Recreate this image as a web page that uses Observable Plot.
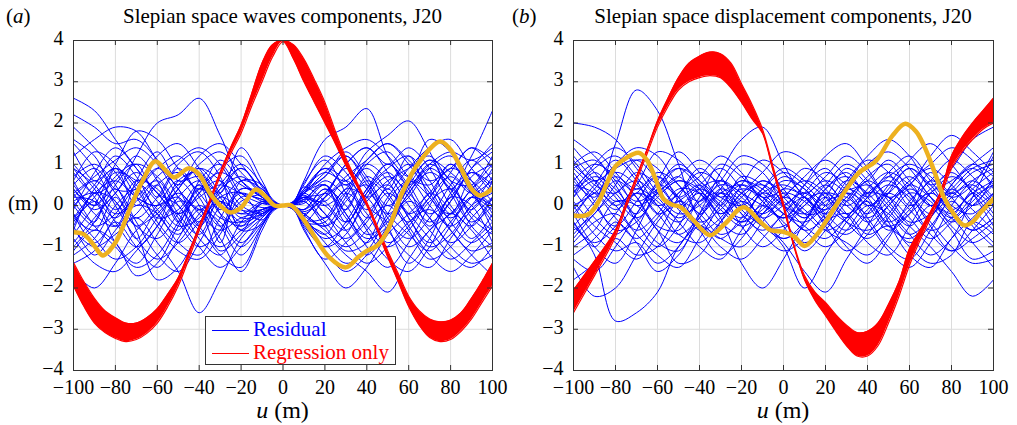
<!DOCTYPE html>
<html><head><meta charset="utf-8">
<script src="https://cdn.jsdelivr.net/npm/d3@7"></script>
<script src="https://cdn.jsdelivr.net/npm/@observablehq/plot@0.6"></script>
<style>
body{margin:0;background:#fff;}
#root{position:relative;width:1017px;height:425px;font-family:"Liberation Serif","Times New Roman",serif;color:#000;overflow:hidden;}
.abs{position:absolute;white-space:nowrap;line-height:1;}
svg text{font-family:"Liberation Serif","Times New Roman",serif;}
</style></head><body><div id="root"></div>
<script>
// ---------- tick labels ----------
const xTicks = [-100,-80,-60,-40,-20,0,20,40,60,80,100];
const yTicks = [-4,-3,-2,-1,0,1,2,3,4];

// ---------- panel (a): Slepian space waves components ----------
const uA = [-100,-90,-80,-70,-60,-50,-40,-30,-20,-10,-5,0,5,10,20,30,40,50,60,70,80,90,100];
const residualA = [
 [2.6,2.3,1.6,0.9,0.3,-0.2,0.2,0.5,0.3,0.15,0.05,0,-0.05,-0.3,-0.8,-0.5,0.4,1.0,0.5,-0.2,0.2,0.9,1.3],
 [2.2,1.9,1.5,1.6,1.1,0.4,-0.1,0.4,0.7,0.25,0.08,0,0.05,0.3,1.0,1.4,1.6,1.2,0.7,1.1,0.8,0.3,-0.1],
 [0.4,-0.1,0.3,1.2,2.0,2.2,2.6,1.7,0.6,0.2,0.06,0,-0.08,-0.5,-1.0,-0.4,0.4,0.9,1.2,0.6,-0.2,0.4,0.8],
 [-0.5,0.4,0.9,0.4,-0.4,-0.9,-0.4,0.1,-0.2,-0.1,-0.03,0,0.1,0.6,1.6,1.9,2.35,1.2,0.5,1.0,0.6,-0.3,-0.7],
 [0.9,0.2,-0.5,-0.2,0.5,0.8,0.3,-0.3,-0.4,-0.1,-0.02,0,0.05,0.4,0.8,0.6,1.3,1.7,2.05,1.3,0.4,1.2,2.3],
 [-0.6,-1.0,-0.7,-0.3,-0.9,-1.6,-2.6,-1.8,-0.8,-0.3,-0.08,0,0.06,0.3,0.5,-0.2,-0.8,-0.5,0.3,0.8,0.4,-0.5,-1.0],
 [0.2,0.6,0.1,-0.5,-0.8,-0.2,0.4,0.8,0.5,0.2,0.05,0,-0.1,-0.6,-1.4,-2.0,-1.5,-0.7,-0.2,0.3,0.9,0.6,0.1],
 [-0.3,0.3,0.6,0.2,0.0,0.5,0.9,0.3,-0.3,-0.2,-0.05,0,-0.05,-0.4,-0.7,-1.2,-1.6,-2.1,-1.3,-0.6,-0.2,0.4,1.0],
 [-1.6,-2.0,-1.4,-0.6,-0.2,0.3,-0.2,-0.6,-0.3,-0.15,-0.04,0,0.04,0.2,0.0,0.4,1.0,0.6,-0.3,-0.9,-0.4,0.2,0.0],
 [1.5,0.9,0.0,-0.8,-1.3,-0.9,-0.2,0.3,0.9,0.35,0.1,0,-0.06,-0.35,-0.3,0.4,0.2,-0.6,-1.2,-1.5,-0.8,-0.1,0.4],
 [-1.0,-0.4,0.5,1.0,0.7,0.0,-0.6,-1.0,-0.6,-0.25,-0.06,0,0.08,0.5,1.2,0.8,0.0,-0.4,-0.8,-0.3,0.5,1.1,0.6],
 [0.6,1.3,1.0,0.2,-0.5,-1.1,-1.3,-0.7,0.2,0.15,0.04,0,-0.03,-0.2,-0.6,-1.0,-0.6,0.2,0.9,1.4,1.6,0.9,0.3],
 [-0.2,-0.8,-1.3,-1.0,-0.3,0.4,1.0,1.3,0.8,0.3,0.07,0,-0.04,-0.1,0.3,1.0,1.4,0.8,0.0,-0.6,-1.2,-1.5,-1.0],
 [0.3,0.7,1.1,1.4,1.0,0.2,-0.5,-1.2,-1.5,-0.5,-0.1,0,0.02,0.1,0.6,0.2,-0.5,-1.0,-0.6,0.1,0.4,-0.2,-0.6],
 [-1.2,-0.8,0.0,0.5,1.2,1.5,0.9,0.2,-0.4,-0.2,-0.05,0,-0.08,-0.45,-1.0,-0.7,0.2,0.7,0.3,-0.3,-1.0,-1.4,-1.2],
 [0.0,-0.5,-0.2,0.6,0.4,-0.3,-1.0,-1.5,-1.0,-0.4,-0.1,0,0.07,0.35,0.7,1.2,0.5,-0.2,0.4,1.0,1.3,1.1,1.4],
 [1.0,0.4,-0.2,0.1,0.7,1.1,1.4,1.0,0.2,-0.05,-0.02,0,0.03,0.1,-0.5,-1.1,-0.9,0.1,0.6,0.2,-0.6,-1.2,-1.7],
 [-0.8,-1.4,-1.6,-1.1,-0.5,0.2,0.6,0.1,-0.2,0.1,0.03,0,-0.02,-0.15,0.2,0.7,1.1,1.5,1.0,0.3,-0.3,0.2,0.6],
 [0.5,0.0,0.4,-0.4,-1.2,-1.6,-0.9,0.0,0.6,0.4,0.1,0,-0.05,-0.3,-0.9,-1.4,-1.1,-0.3,0.2,0.9,1.2,0.6,-0.2],
 [-0.3,0.2,1.0,1.8,1.6,0.9,0.4,0.9,1.2,0.45,0.12,0,0.06,0.25,-0.2,-0.6,0.1,0.5,-0.3,-1.0,-0.7,0.0,0.3],
 [1.2,1.6,1.9,1.8,1.1,0.5,0.9,0.6,-0.1,-0.1,-0.02,0,-0.1,-0.55,-1.3,-0.9,-0.4,0.3,-0.2,-0.8,-1.3,-0.9,-0.4],
 [-1.4,-1.1,-0.4,-1.0,-1.5,-0.8,0.0,-0.5,-1.2,-0.5,-0.12,0,0.04,0.2,0.3,0.9,0.4,-0.3,-1.0,-0.6,0.1,0.9,1.5],
 [0.1,0.3,-0.4,-1.0,-0.5,0.6,0.8,-0.2,-0.9,-0.3,-0.07,0,0.1,0.55,1.1,0.3,-0.6,-1.3,-1.6,-1.0,-0.2,-0.6,-1.3],
 [-0.9,-0.3,0.3,0.8,0.3,-0.2,0.3,1.1,0.6,0.2,0.05,0,-0.03,-0.1,0.4,0.0,-0.7,-0.4,0.5,1.6,1.3,0.5,0.0],
 [0.7,1.0,0.5,-0.6,-1.8,-1.5,-0.6,0.2,-0.1,-0.35,-0.09,0,0.05,0.3,-0.2,-0.9,-1.4,-1.0,-0.4,-0.1,-0.6,-1.1,-0.9],
 [-0.1,0.8,1.4,0.9,0.3,0.0,-0.8,-1.2,-0.4,0.05,0.02,0,-0.1,-0.4,0.2,1.0,1.4,1.0,1.4,0.9,0.0,-0.5,0.2],
 [0.3,-0.5,-1.0,-1.5,-1.2,-0.4,0.4,0.0,-0.6,-0.2,-0.05,0,0.07,0.4,0.9,0.5,0.9,0.3,-0.5,-1.2,-1.6,-1.2,-0.6],
 [1.6,1.2,0.4,0.4,0.9,1.2,0.6,-0.1,0.3,0.1,0.02,0,0.02,0.15,0.5,-0.2,-1.0,-1.5,-0.9,0.0,0.8,1.4,1.1],
 [-0.5,-1.2,-0.6,0.0,-0.2,-0.9,-1.2,-0.3,0.4,0.3,0.08,0,-0.06,-0.25,-0.5,0.2,1.0,1.3,0.7,0.5,1.0,0.3,-0.4],
 [0.2,0.1,-0.9,-1.4,-0.7,0.1,-0.1,-0.8,-1.6,-0.6,-0.15,0,0.09,0.45,0.1,-0.4,0.3,0.8,0.2,-0.4,0.1,0.8,0.5],
 [1.9,1.4,0.8,0.2,0.0,0.4,1.2,1.5,1.0,0.35,0.09,0,-0.07,-0.35,-1.1,-1.6,-1.2,-0.5,0.3,0.9,0.5,-0.1,0.6],
 [-0.7,0.0,0.8,0.6,0.1,-0.5,-0.3,0.5,1.0,0.5,0.12,0,0.03,0.1,-0.3,0.3,1.1,1.5,1.1,0.6,0.9,1.4,0.9],
 [0.5,0.9,0.3,-0.3,0.2,1.0,1.3,0.7,-0.6,-0.45,-0.11,0,0.06,0.3,0.8,1.2,0.6,-0.2,-0.7,-1.1,-0.5,0.2,-0.3],
 [-1.1,-0.6,-0.9,-1.7,-1.4,-0.5,0.3,0.6,0.0,-0.2,-0.05,0,-0.04,-0.2,-0.5,-0.1,0.6,0.2,-0.6,-1.3,-1.0,-0.3,0.2],
 [0.0,0.5,1.2,0.7,-0.2,-0.7,-0.1,-0.4,-1.0,-0.45,-0.1,0,0.08,0.35,0.9,0.6,-0.1,0.5,1.0,0.4,-0.4,-0.9,-0.5],
 [0.8,0.3,0.6,1.2,0.6,-0.4,-1.0,-0.6,0.4,0.25,0.06,0,-0.08,-0.4,-0.4,0.3,-0.2,-0.9,-0.5,0.2,0.7,0.3,0.9],
 [-0.4,0.1,-0.3,0.3,0.9,0.4,-0.4,0.4,0.9,0.3,0.07,0,0.05,0.2,0.0,-0.6,-1.2,-0.6,0.1,-0.3,-0.9,-0.5,0.2],
 [1.3,0.6,0.9,0.5,-0.3,-0.1,0.5,-0.2,-0.5,0.05,0.01,0,0.04,0.3,0.7,1.3,0.7,0.0,0.5,1.1,0.3,-0.4,0.0],
 [-0.2,-0.9,-0.3,0.2,0.6,-0.2,-0.7,0.2,0.3,-0.25,-0.06,0,-0.02,-0.1,0.4,-0.3,-0.9,-0.2,0.6,0.0,-0.5,0.0,0.7],
 [0.4,0.0,0.7,1.0,0.2,0.9,0.2,-0.5,0.1,0.25,0.06,0,0.04,0.15,0.1,0.6,0.2,0.6,0.9,1.2,0.6,0.5,1.2],
 [-0.3,-0.6,0.2,-0.5,0.0,0.6,0.0,-1.1,-0.7,0.1,0.03,0,0.03,0.2,-0.4,-0.8,-0.3,0.4,-0.2,0.2,1.0,0.4,-0.6],
 [0.9,0.5,-0.1,0.4,-0.1,-0.6,0.6,1.0,0.3,0.05,0.01,0,-0.03,-0.2,0.2,0.5,-0.3,0.0,-0.4,0.3,-0.1,-0.8,-0.2],
 [-0.6,0.3,0.1,-0.8,-0.1,0.2,-0.5,0.1,-0.5,-0.1,-0.02,0,-0.06,-0.3,-0.7,0.1,0.5,-0.5,-1.4,-0.8,0.3,0.8,0.4],
 [0.1,-0.4,0.9,0.0,0.5,-0.4,0.5,-0.9,0.6,0.5,0.12,0,0.02,0.05,0.5,-0.4,0.3,1.0,0.4,-0.5,0.2,0.0,-0.9],
 [0.6,-0.2,-0.5,0.6,1.3,0.6,0.7,0.3,1.4,0.6,0.15,0,-0.05,-0.25,0.3,-0.1,0.7,0.4,1.2,0.2,-0.2,0.7,1.0]
];
const uRedA = [-100,-95,-90,-85,-80,-75,-70,-65,-60,-55,-50,-45,-40,-35,-30,-25,-20,-15,-10,-5,0,5,10,15,20,25,30,35,40,45,50,55,60,65,70,75,80,85,90,95,100];
const redLowA  = [-1.95,-2.45,-2.85,-3.08,-3.22,-3.3,-3.25,-3.1,-2.85,-2.45,-1.95,-1.3,-0.6,0.05,0.7,1.25,1.75,2.4,3.0,3.6,3.97,3.55,3.0,2.5,2.0,1.5,0.97,0.5,0.0,-0.6,-1.25,-1.85,-2.45,-2.9,-3.2,-3.3,-3.25,-3.05,-2.75,-2.35,-1.95];
const redHighA = [-1.38,-1.85,-2.25,-2.55,-2.72,-2.85,-2.85,-2.72,-2.5,-2.15,-1.75,-1.15,-0.5,0.12,0.8,1.4,1.95,2.7,3.45,3.9,4.0,3.9,3.55,3.05,2.5,1.8,1.15,0.6,0.08,-0.5,-1.1,-1.65,-2.2,-2.55,-2.75,-2.82,-2.78,-2.6,-2.25,-1.85,-1.4];
const uOrangeA = [-100,-95,-90,-86,-80,-73,-67,-61,-56,-52,-45,-40,-35,-30,-25,-20,-13,-8,-4,0,4,10,15,22,30,36,40,45,50,57,65,75,80,85,90,94,100];
const orangeA  = [-0.65,-0.7,-0.98,-1.21,-0.9,-0.07,0.6,1.07,0.85,0.68,0.9,0.75,0.31,0.0,-0.17,-0.05,0.39,0.2,0.0,0,0,-0.35,-0.75,-1.25,-1.5,-1.25,-1.1,-0.97,-0.6,0.32,1.05,1.55,1.35,0.9,0.4,0.24,0.41];

// ---------- panel (b): Slepian space displacement components ----------
const uB = [-100,-90,-80,-70,-60,-50,-40,-30,-20,-10,0,10,20,30,40,50,60,70,80,90,100];
const residualB = [
 [0.6,0.2,1.5,2.8,2.3,1.0,-0.2,0.3,0.5,0.1,-0.3,0.2,0.6,0.3,-0.2,0.4,0.9,0.5,-0.1,0.3,0.6],
 [2.0,1.9,1.6,0.9,0.3,0.6,0.4,-0.2,0.2,0.6,0.3,-0.2,-0.6,-0.3,0.4,0.8,0.5,0.0,0.4,0.9,1.1],
 [-0.4,-1.2,-2.8,-2.6,-2.1,-1.0,-0.5,-0.8,-1.0,-0.4,0.2,0.6,0.3,-0.4,-0.8,-0.3,0.3,0.1,-0.5,-0.9,-0.6],
 [-1.3,-1.6,-1.0,-0.2,0.5,0.9,0.4,-0.3,-1.4,-2.0,-1.3,-0.4,0.4,0.7,0.2,-0.5,-0.8,-0.3,0.5,1.0,0.7],
 [0.3,0.7,0.4,-0.3,-0.9,-1.1,-0.2,0.8,1.6,1.9,1.0,0.2,-0.1,0.4,1.0,1.3,0.9,0.2,-0.3,0.2,0.5],
 [-0.6,-0.2,0.5,1.1,0.9,0.1,-0.6,-1.2,-0.8,0.0,0.6,0.4,-0.3,-1.0,-1.4,-0.8,0.1,0.6,1.1,0.7,0.1],
 [1.0,1.3,0.8,0.2,-0.6,-0.9,-0.3,0.4,0.1,-0.4,-0.9,-1.6,-2.1,-1.3,-0.5,0.3,0.9,0.4,-0.2,-0.6,-0.3],
 [0.1,-0.5,-0.9,-1.3,-0.7,0.2,0.8,0.5,-0.2,-0.6,-0.2,0.5,1.2,1.5,0.9,0.1,-0.5,-1.0,-1.6,-2.2,-1.8],
 [-0.2,0.4,1.0,1.4,1.2,0.5,0.1,0.6,1.2,1.0,0.4,-0.2,-0.1,0.6,1.2,1.6,1.2,0.5,0.9,1.6,1.9],
 [0.8,0.1,-0.6,-0.4,0.3,0.7,1.1,0.7,-0.1,-0.5,-0.8,-0.5,0.1,0.2,-0.4,-1.1,-1.5,-0.9,0.0,0.6,0.9],
 [-1.0,-0.6,0.1,0.0,-0.6,-1.4,-1.2,-0.4,0.3,0.5,0.1,-0.3,0.2,0.9,0.5,-0.1,-0.7,-1.2,-0.8,0.2,1.2],
 [0.4,0.9,1.2,0.7,0.0,-0.4,0.2,1.0,0.7,0.2,0.4,0.9,0.6,0.0,-0.3,0.1,0.6,1.0,1.4,1.1,0.4],
 [-0.9,-0.4,-0.2,-0.7,-1.2,-1.5,-0.8,0.0,0.5,0.2,-0.5,-1.1,-0.6,0.1,0.7,1.0,0.3,-0.5,-1.1,-0.8,-0.4],
 [1.4,0.8,0.2,-0.3,0.2,0.6,0.3,-0.4,-0.7,-0.2,0.3,0.1,-0.4,-0.7,-0.2,0.5,1.1,1.5,1.0,0.3,-0.5],
 [-0.2,-1.0,-1.4,-0.6,0.4,1.0,0.6,0.2,0.0,0.4,0.8,0.5,0.0,-0.4,-0.6,-0.2,0.4,0.0,-0.6,-1.3,-1.1],
 [0.5,0.3,-0.3,-0.8,-0.3,0.3,0.7,1.2,0.8,0.1,-0.3,0.0,0.5,1.0,0.6,-0.4,-1.2,-1.5,-0.8,-0.3,0.2],
 [-1.5,-2.2,-2.0,-1.2,-0.4,0.1,-0.2,-0.7,-0.4,0.3,0.0,-0.5,-0.8,-0.3,0.3,0.6,0.1,-0.6,-0.3,0.4,0.8],
 [1.0,0.6,0.9,1.1,0.6,-0.1,-0.5,0.1,0.6,0.3,-0.2,-0.6,-1.0,-0.6,0.0,-0.2,-0.7,-0.3,0.5,0.9,0.5],
 [0.2,0.6,0.1,0.3,0.8,0.5,-0.3,-0.8,-0.3,0.3,0.5,0.2,-0.2,0.5,1.1,0.8,0.0,0.4,0.8,0.3,-0.3],
 [-0.7,-0.1,0.6,0.2,-0.5,-0.6,0.1,0.3,-0.2,-0.7,-1.1,-0.8,-0.2,0.3,0.0,-0.6,-0.2,0.6,0.2,-0.5,-1.0],
 [0.9,1.1,0.5,-0.4,-1.0,-0.5,0.4,0.6,0.2,-0.2,0.2,0.7,1.1,0.7,0.2,0.5,0.2,-0.4,-1.0,-1.4,-1.3],
 [-0.3,0.3,0.0,-0.6,-0.2,0.4,0.3,-0.2,0.3,0.8,1.3,1.1,0.4,0.0,0.3,0.2,-0.3,-0.8,-0.4,0.1,0.6],
 [0.0,-0.7,-1.1,-0.9,-1.4,-1.0,-0.2,0.4,1.0,0.8,0.0,-0.6,-0.3,0.3,-0.3,-1.0,-1.3,-0.6,0.2,0.5,0.0],
 [1.2,0.6,0.0,0.5,1.3,1.1,0.5,0.0,-0.4,-0.1,0.4,0.2,-0.5,-1.1,-0.7,0.0,0.5,0.9,0.5,0.0,0.3],
 [-0.5,0.1,0.8,0.5,0.0,0.3,0.9,0.4,-0.5,-1.0,-0.6,0.1,0.3,-0.2,-0.9,-1.2,-0.5,0.3,0.6,1.0,1.4],
 [0.7,0.0,-0.5,0.1,0.7,0.2,-0.6,-0.3,0.5,1.1,0.8,0.3,0.7,1.2,0.8,0.2,0.5,1.2,1.7,1.3,0.8],
 [-1.2,-0.8,-0.2,0.4,0.1,-0.4,-1.0,-1.3,-0.6,0.0,-0.4,-0.9,-0.5,0.2,0.5,0.0,-0.5,0.0,-0.3,-0.9,-1.5],
 [0.3,1.0,1.4,1.0,0.3,-0.2,0.0,0.5,0.3,-0.4,-1.0,-2.0,-1.2,-0.4,0.2,0.8,1.2,0.6,0.0,-0.2,0.3],
 [1.6,1.2,0.6,0.1,0.4,0.9,0.6,0.0,-0.4,0.1,0.7,0.4,0.0,0.4,0.1,-0.5,-0.2,0.3,0.7,0.4,0.0],
 [-0.8,-0.2,0.3,0.6,0.2,-0.3,0.1,0.6,0.3,0.0,-0.3,0.3,0.8,0.5,0.0,0.3,0.7,0.2,-0.4,0.0,0.5],
 [0.4,-0.3,-0.7,-0.2,0.5,0.2,-0.4,-0.1,0.4,0.2,-0.2,-0.4,0.0,0.6,0.3,-0.3,-0.9,-0.5,0.1,-0.4,-0.9],
 [1.1,0.5,0.3,0.8,0.5,0.0,0.4,0.1,-0.3,0.4,0.9,0.6,0.2,-0.3,0.2,0.7,0.3,-0.2,0.3,0.8,1.0],
 [-0.1,0.5,1.1,0.6,-0.2,0.1,0.5,0.9,0.4,-0.3,0.0,0.3,-0.2,-0.6,-0.1,0.3,-0.1,-0.7,-1.1,-0.6,0.0],
 [0.6,1.0,0.7,0.0,0.3,0.7,0.0,-0.5,0.0,0.6,0.2,-0.3,0.4,0.8,0.3,0.7,1.0,0.7,0.2,0.5,1.3],
 [-0.5,-0.9,-0.5,0.3,0.0,-0.7,-0.9,-0.4,0.1,-0.3,-0.8,-0.4,0.3,0.1,-0.4,0.0,0.5,0.2,-0.2,0.3,-0.2],
 [0.2,0.8,0.3,-0.2,0.6,1.3,0.8,0.2,0.6,0.4,0.0,0.5,0.9,0.4,0.6,1.1,0.6,0.0,0.3,-0.1,-0.6],
 [-1.8,-1.4,-0.8,-1.2,-1.0,-0.2,0.3,-0.1,-0.5,-0.2,0.2,-0.1,-0.6,-0.9,-1.2,-0.7,-0.1,0.3,-0.1,-0.6,-0.3],
 [0.9,0.4,-0.1,0.3,-0.2,-0.7,-0.3,0.3,0.0,-0.5,-0.5,0.0,0.5,0.1,0.6,0.2,-0.4,-0.2,0.4,0.0,0.7],
 [0.0,0.3,0.7,0.4,0.7,0.2,0.5,0.0,0.7,0.5,0.0,-0.2,0.2,-0.2,0.1,-0.4,0.0,0.8,0.3,0.6,0.2],
 [-0.4,-1.0,-0.4,-0.9,-1.6,-1.2,-0.5,-1.0,-1.3,-0.8,-0.2,0.2,-0.3,-0.2,-0.7,-0.5,-1.0,-1.4,-1.2,-0.4,-0.7]
];
const uRedB = [-100,-95,-90,-85,-80,-75,-70,-65,-60,-55,-50,-45,-40,-35,-30,-25,-20,-15,-10,-5,0,5,10,15,20,25,30,35,40,45,50,55,60,65,70,75,80,85,90,95,100];
const redLowB  = [-2.6,-2.15,-1.7,-1.25,-0.75,-0.05,0.6,1.25,1.9,2.4,2.8,3.0,3.1,3.15,3.1,2.85,2.5,2.1,1.75,0.85,-0.05,-1.0,-1.8,-2.3,-2.67,-3.05,-3.4,-3.65,-3.65,-3.4,-2.85,-2.2,-1.45,-0.85,-0.3,0.25,0.9,1.3,1.6,1.85,2.0];
const redHighB = [-2.05,-1.7,-1.35,-1.0,-0.6,0.05,0.7,1.35,2.05,2.6,3.1,3.45,3.62,3.72,3.68,3.45,2.95,2.45,1.85,0.95,0.05,-0.95,-1.7,-2.1,-2.35,-2.65,-2.9,-3.08,-3.05,-2.85,-2.4,-1.85,-1.05,-0.6,-0.15,0.35,1.2,1.65,2.0,2.3,2.6];
const uOrangeB = [-100,-95,-92,-88,-84,-80,-75,-69,-65,-61,-57,-53,-49,-43,-35,-28,-19,-11,-6,0,5,10,16,22,30,36,44,52,58,63,67,72,76,81,86,90,94,100];
const orangeB  = [-0.24,-0.25,-0.18,0.1,0.55,0.95,1.15,1.28,1.1,0.65,0.15,0.02,-0.04,-0.35,-0.72,-0.45,-0.04,-0.4,-0.6,-0.64,-0.75,-0.98,-0.7,-0.24,0.4,0.8,1.08,1.7,1.98,1.8,1.44,0.8,0.24,-0.2,-0.48,-0.4,-0.16,0.16];

// ---------- styles ----------
const BLUE = "#0000ff", RED = "#ff0000", ORANGE = "#EDB120";
const SERIF = '"Liberation Serif","Times New Roman",serif';
const fmt = d => d < 0 ? "\u2212" + Math.abs(d) : String(d);

function panel(u, residual, uRed, lo, hi, uOr, orVals, W, mL, mR) {
  const H = 425, mT = 40, mB = 55;
  const innerW = W - mL - mR, innerH = H - mT - mB;
  const blueRows = residual.flatMap((ys, k) => ys.map((y, i) => ({u: u[i], y, id: k})));
  const redRows = uRed.map((x, i) => ({u: x, lo: lo[i], hi: hi[i]}));
  const orRows = uOr.map((x, i) => ({u: x, y: orVals[i]}));
  return Plot.plot({
    width: W, height: H,
    marginTop: mT, marginBottom: mB, marginLeft: mL, marginRight: mR,
    x: {domain: [-100, 100]},
    y: {domain: [-4, 4]},
    style: {fontFamily: SERIF, fontSize: "20px", color: "#000", background: "transparent", overflow: "visible"},
    marks: [
      Plot.gridX(xTicks, {stroke: "#dcdcdc", strokeOpacity: 1}),
      Plot.gridY(yTicks, {stroke: "#dcdcdc", strokeOpacity: 1}),
      Plot.line(blueRows, {x: "u", y: "y", z: "id", stroke: BLUE, strokeWidth: 1, curve: "catmull-rom", clip: true}),
      Plot.areaY(redRows, {x: "u", y1: "lo", y2: "hi", fill: RED, curve: "catmull-rom", clip: true}),
      Plot.line(redRows, {x: "u", y: "lo", stroke: RED, strokeWidth: 1.2, curve: "catmull-rom", clip: true}),
      Plot.line(redRows, {x: "u", y: "hi", stroke: RED, strokeWidth: 1.2, curve: "catmull-rom", clip: true}),
      Plot.line(orRows, {x: "u", y: "y", stroke: ORANGE, strokeWidth: 4.5, curve: "catmull-rom", clip: true}),
      Plot.frame({stroke: "#333", strokeWidth: 1}),
      Plot.tickX(xTicks, {insetTop: innerH - 5, stroke: "#333"}),
      Plot.tickX(xTicks, {insetBottom: innerH - 5, stroke: "#333"}),
      Plot.tickY(yTicks, {insetRight: innerW - 5, stroke: "#333"}),
      Plot.tickY(yTicks, {insetLeft: innerW - 5, stroke: "#333"}),
      Plot.axisX({ticks: xTicks, tickSize: 0, tickPadding: 9, tickFormat: fmt, label: null, fontSize: 20, fontFamily: SERIF, fill: "#000"}),
      Plot.axisY({ticks: yTicks, tickSize: 0, tickPadding: 10, tickFormat: fmt, label: null, fontSize: 20, fontFamily: SERIF, fill: "#000", dy: -2})
    ]
  });
}

const root = document.getElementById("root");
function place(el, left, top) { el.style.position = "absolute"; el.style.left = left + "px"; el.style.top = top + "px"; root.appendChild(el); return el; }
function txt(html, left, top, size, extra) {
  const d = document.createElement("div"); d.className = "abs"; d.innerHTML = html;
  d.style.left = left + "px"; d.style.top = top + "px"; d.style.fontSize = size + "px";
  if (extra) Object.assign(d.style, extra);
  root.appendChild(d); return d;
}

place(panel(uA, residualA, uRedA, redLowA, redHighA, uOrangeA, orangeA, 510, 73, 18), 0, 0);
place(panel(uB, residualB, uRedB, redLowB, redHighB, uOrangeB, orangeB, 517, 73, 24), 500, 0);

// titles and labels
txt("(<i>a</i>)", 6, 6, 21);
txt("Slepian space waves components, J20", 282.5, 6, 21, {transform: "translateX(-50%)"});
txt("(<i>b</i>)", 512, 6, 21);
txt("Slepian space displacement components, J20", 783, 6, 21, {transform: "translateX(-50%)"});
txt("(m)", 8, 193, 21);
txt("<i>u</i> (m)", 282.5, 398, 24, {transform: "translateX(-50%)"});
txt("<i>u</i> (m)", 783, 398, 24, {transform: "translateX(-50%)"});

// legend
const lg = document.createElement("div");
lg.className = "abs";
Object.assign(lg.style, {left: "205px", top: "316px", width: "191px", height: "49px", background: "#fff", border: "1px solid #333", boxSizing: "border-box"});
root.appendChild(lg);
function entry(label, color, top) {
  const line = document.createElement("div");
  Object.assign(line.style, {position: "absolute", left: "6px", top: (top + 11) + "px", width: "37px", height: "0", borderTop: "1px solid " + color});
  lg.appendChild(line);
  const t = document.createElement("div");
  Object.assign(t.style, {position: "absolute", left: "47px", top: top + "px", fontSize: "21px", color: color, lineHeight: "1", whiteSpace: "nowrap"});
  t.textContent = label;
  lg.appendChild(t);
}
entry("Residual", BLUE, 2);
entry("Regression only", RED, 25);
</script>
</body></html>
